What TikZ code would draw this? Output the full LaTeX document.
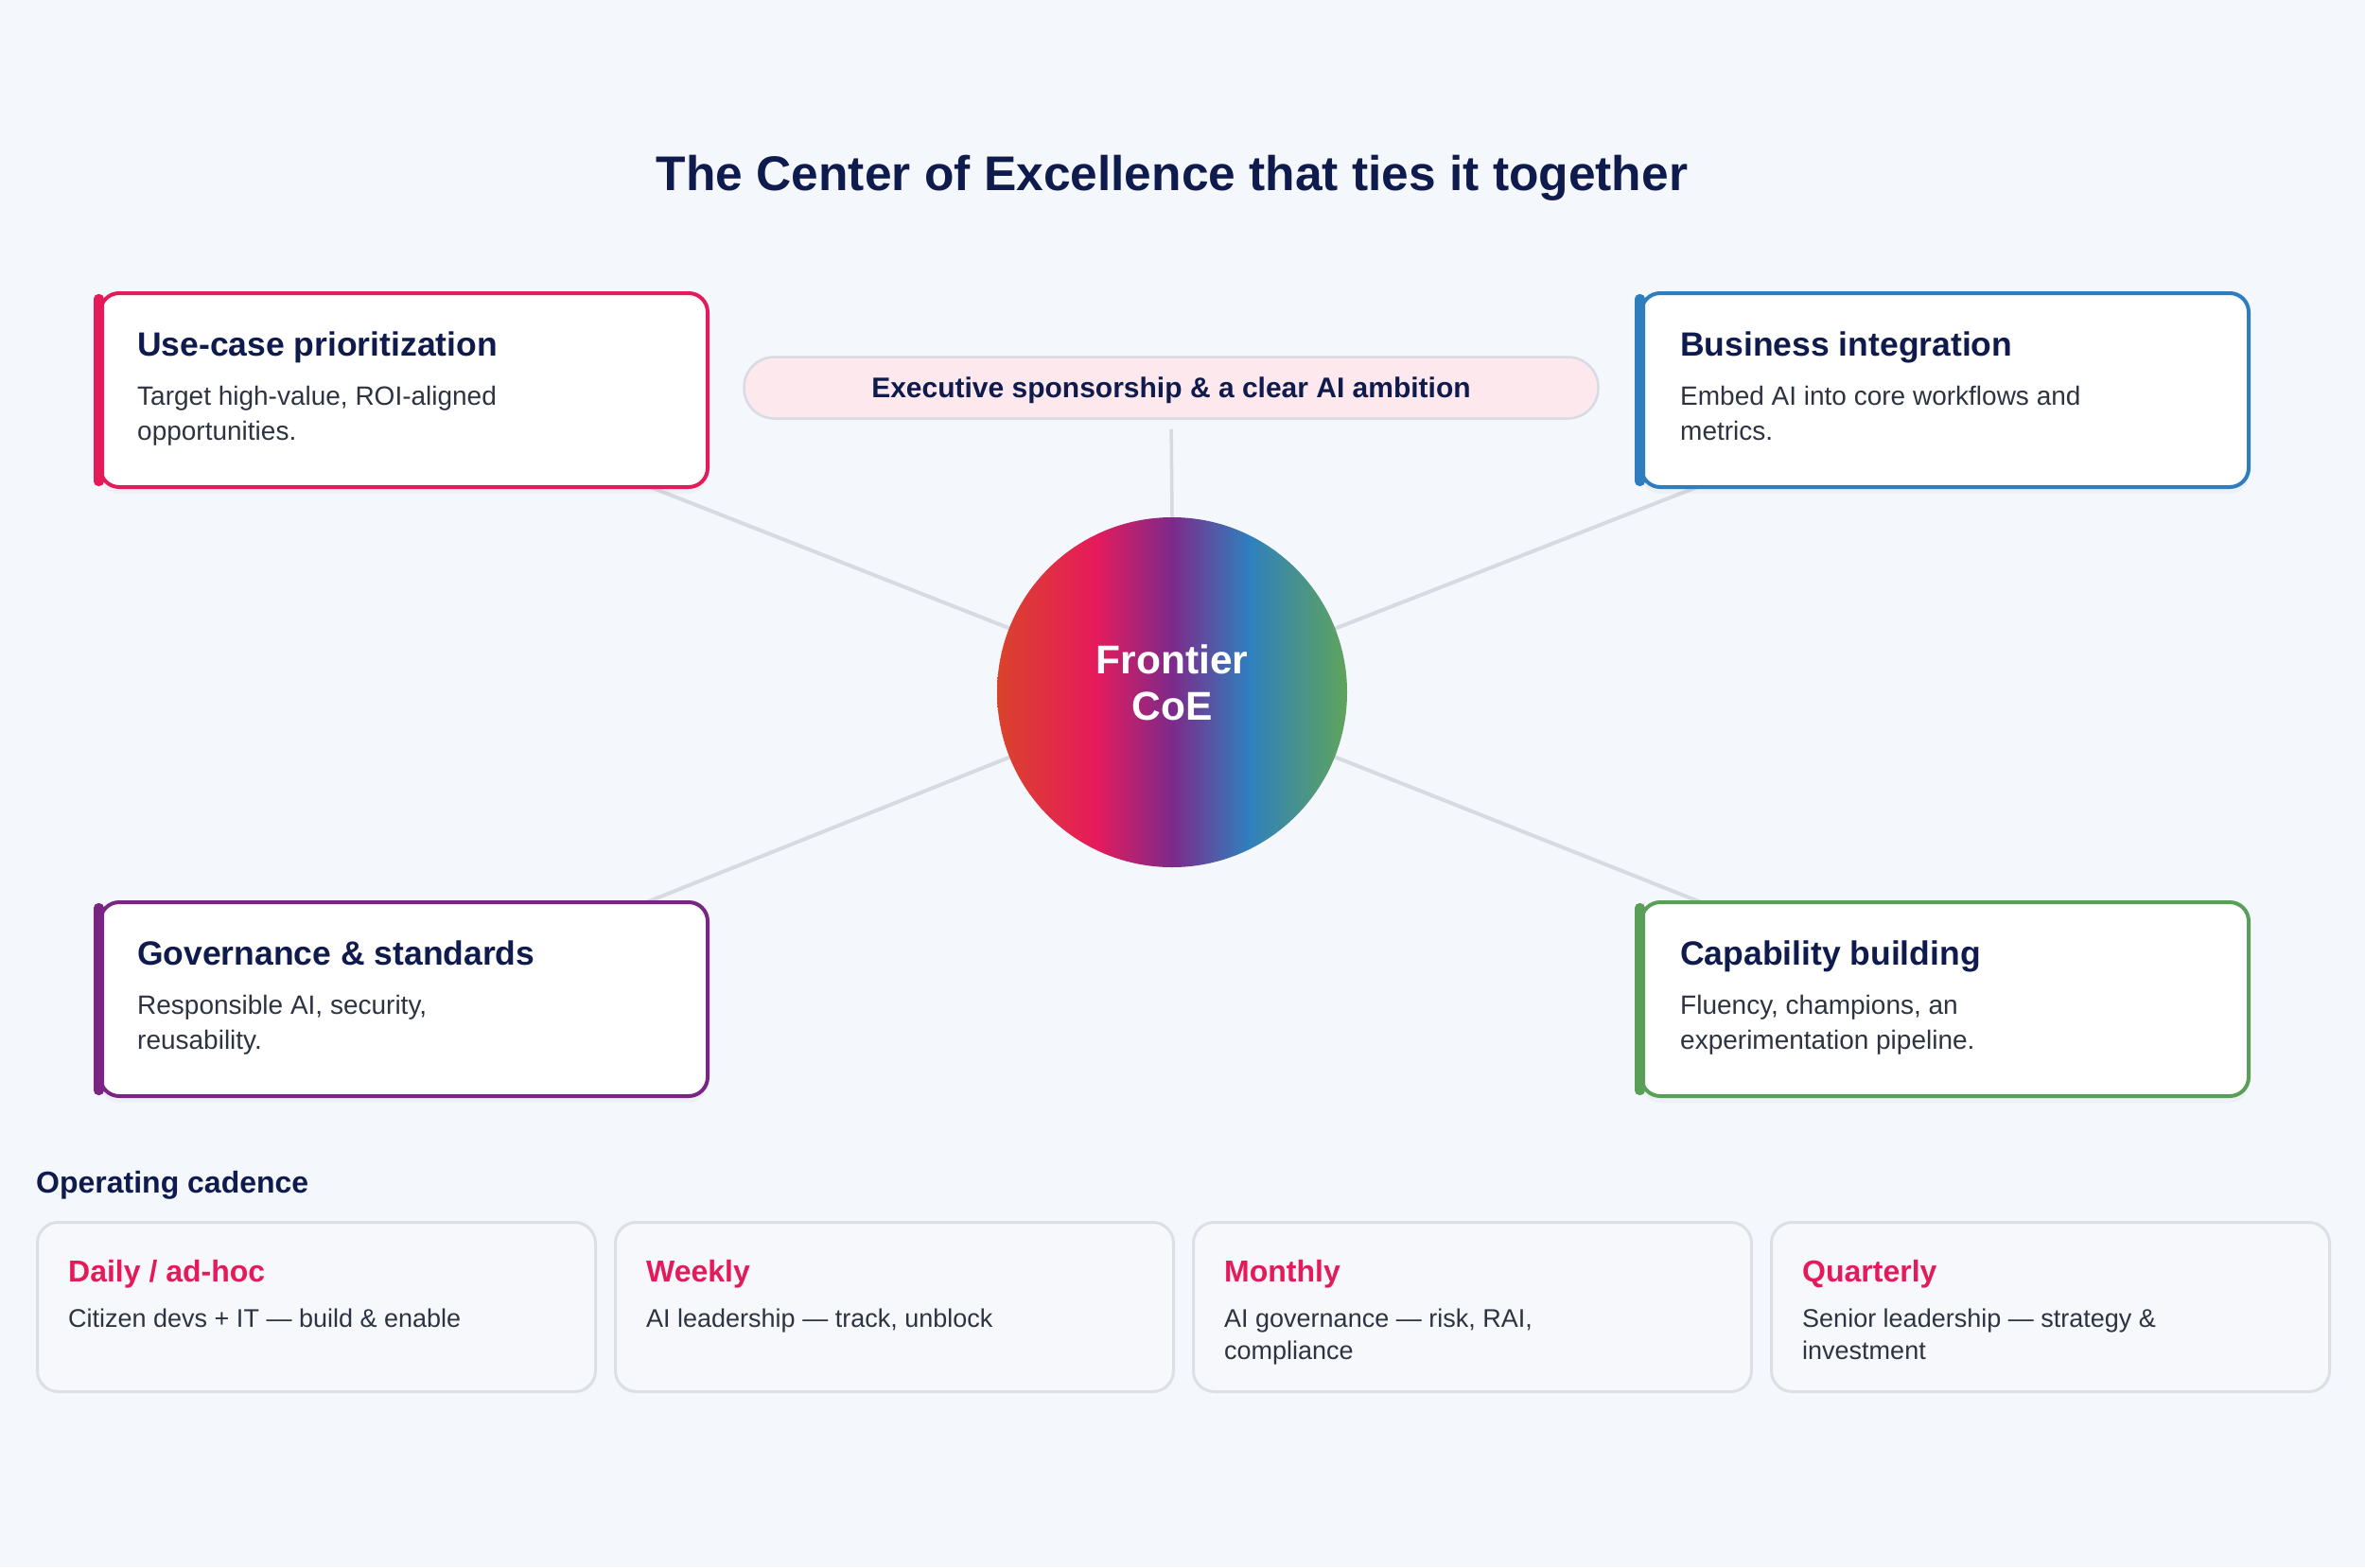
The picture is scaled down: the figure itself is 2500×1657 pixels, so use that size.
\documentclass[tikz,border=0pt]{standalone}
\usepackage{fontspec}
\setmainfont{Liberation Sans}
\usetikzlibrary{shadows}
\definecolor{bgc}{HTML}{F4F7FC}
\definecolor{navy}{HTML}{0F1B4C}
\definecolor{txt}{HTML}{2D3340}
\definecolor{crim}{HTML}{E31B5A}
\definecolor{blu}{HTML}{2E7DBE}
\definecolor{purp}{HTML}{7A2483}
\definecolor{grn}{HTML}{5A9F58}
\definecolor{connc}{HTML}{D7DAE2}
\definecolor{pillfill}{HTML}{FDE8EE}
\definecolor{pillline}{HTML}{D8DBE3}
\definecolor{cadfill}{HTML}{F7F8FB}
\definecolor{cadline}{HTML}{DCDFE6}
\definecolor{gA}{HTML}{DA432B}
\definecolor{gB}{HTML}{E61B5B}
\definecolor{gC}{HTML}{7D2A8A}
\definecolor{gD}{HTML}{2F80BE}
\definecolor{gE}{HTML}{5FA45B}
\pgfdeclarehorizontalshading{coeshade}{100bp}{color(0bp)=(gA); color(25bp)=(gA); color(39bp)=(gB); color(50bp)=(gC); color(61bp)=(gD); color(75bp)=(gE); color(100bp)=(gE)}
\pgfdeclarelayer{bgl}
\pgfdeclarelayer{linel}
\pgfsetlayers{bgl,linel,main}
\tikzset{
  card/.style={draw=#1, line width=4pt, fill=white, rounded corners=20pt, minimum width=642pt, minimum height=205pt, anchor=north west, inner sep=0pt, drop shadow={opacity=0.06, shadow xshift=0pt, shadow yshift=-7pt}},
  cardtitle/.style={anchor=base west, inner sep=0pt, text=navy, font=\fontsize{35.5}{42}\selectfont\bfseries},
  carddesc/.style={anchor=north west, inner sep=0pt, text=txt, align=left, font=\fontsize{28}{37}\selectfont},
  link/.style={draw=connc, line width=4pt},
  cad/.style={draw=cadline, line width=3pt, fill=cadfill, rounded corners=22pt, minimum width=590pt, minimum height=179pt, anchor=north west, inner sep=0pt},
  cadtitle/.style={anchor=base west, inner sep=0pt, text=crim, font=\fontsize{32}{37}\selectfont\bfseries},
  caddesc/.style={anchor=north west, inner sep=0pt, text=txt, align=left, font=\fontsize{27}{34}\selectfont},
}
\newcommand{\cardbar}[2]{\fill[#2, rounded corners=5pt] ([xshift=-5pt, yshift=-3pt]#1.north west) rectangle ([xshift=6pt, yshift=3pt]#1.south west);}
\begin{document}
\begin{tikzpicture}[x=1pt, y=-1pt]
\begin{pgfonlayer}{bgl}
\fill[bgc] (0,0) rectangle (2500,1657);
\end{pgfonlayer}
\useasboundingbox (0,0) rectangle (2500,1657);

\node[anchor=base, inner sep=0pt, text=navy, font=\fontsize{51.5}{60}\selectfont\bfseries] (title) at (1239,201) {The Center of Excellence that ties it together};

% cards
\node[card=crim] (uc) at (104,308) {};
\cardbar{uc}{crim}
\node[cardtitle] (uct) at ([xshift=41pt, yshift=-68pt]uc.north west) {Use-case prioritization};
\node[carddesc] (ucd) at ([xshift=41pt, yshift=-100pt]uc.north west) {Target high-value, ROI-aligned\\opportunities.};

\node[card=blu] (bi) at (1733,308) {};
\cardbar{bi}{blu}
\node[cardtitle] (bit) at ([xshift=43pt, yshift=-68pt]bi.north west) {Business integration};
\node[carddesc] (bid) at ([xshift=43pt, yshift=-100pt]bi.north west) {Embed AI into core workflows and\\metrics.};

\node[card=purp] (gs) at (104,952) {};
\cardbar{gs}{purp}
\node[cardtitle] (gst) at ([xshift=41pt, yshift=-68pt]gs.north west) {Governance \& standards};
\node[carddesc] (gsd) at ([xshift=41pt, yshift=-100pt]gs.north west) {Responsible AI, security,\\reusability.};

\node[card=grn] (cb) at (1733,952) {};
\cardbar{cb}{grn}
\node[cardtitle] (cbt) at ([xshift=43pt, yshift=-68pt]cb.north west) {Capability building};
\node[carddesc] (cbd) at ([xshift=43pt, yshift=-100pt]cb.north west) {Fluency, champions, an\\experimentation pipeline.};

% pill
\node[draw=pillline, line width=2.5pt, fill=pillfill, rounded corners=32pt, minimum width=903pt, minimum height=65pt, inner sep=0pt, text depth=0pt, text=navy, font=\fontsize{30}{36}\selectfont\bfseries] (pill) at (1238,410) {Executive sponsorship \& a clear AI ambition};

% hub
\node[circle, shade, shading=coeshade, minimum size=370pt, inner sep=0pt] (coe) at (1239,732) {};
\node[inner sep=0pt, text=white, align=center, font=\fontsize{42.5}{49}\selectfont\bfseries] (coet) at ([yshift=10pt]coe.center) {Frontier\\CoE};

\begin{pgfonlayer}{linel}
\draw[link] (coe.center) -- (uc.center);
\draw[link] (coe.center) -- (bi.center);
\draw[link] (coe.center) -- (gs.center);
\draw[link] (coe.center) -- (cb.center);
\draw[link, line width=3.5pt, shorten <=10pt] (pill.south) -- (coe.north);
\end{pgfonlayer}

% cadence
\node[anchor=base west, inner sep=0pt, text=navy, font=\fontsize{32}{37}\selectfont\bfseries] (opc) at (38,1261) {Operating cadence};

\node[cad] (c1) at (38,1291) {};
\node[cadtitle] (c1t) at ([xshift=34pt, yshift=-64pt]c1.north west) {Daily / ad-hoc};
\node[caddesc] (c1d) at ([xshift=34pt, yshift=-93pt]c1.north west) {Citizen devs + IT — build \& enable};

\node[cad] (c2) at (649,1291) {};
\node[cadtitle] (c2t) at ([xshift=34pt, yshift=-64pt]c2.north west) {Weekly};
\node[caddesc] (c2d) at ([xshift=34pt, yshift=-93pt]c2.north west) {AI leadership — track, unblock};

\node[cad] (c3) at (1260,1291) {};
\node[cadtitle] (c3t) at ([xshift=34pt, yshift=-64pt]c3.north west) {Monthly};
\node[caddesc] (c3d) at ([xshift=34pt, yshift=-93pt]c3.north west) {AI governance — risk, RAI,\\compliance};

\node[cad] (c4) at (1871,1291) {};
\node[cadtitle] (c4t) at ([xshift=34pt, yshift=-64pt]c4.north west) {Quarterly};
\node[caddesc] (c4d) at ([xshift=34pt, yshift=-93pt]c4.north west) {Senior leadership — strategy \&\\investment};
\end{tikzpicture}
\end{document}
